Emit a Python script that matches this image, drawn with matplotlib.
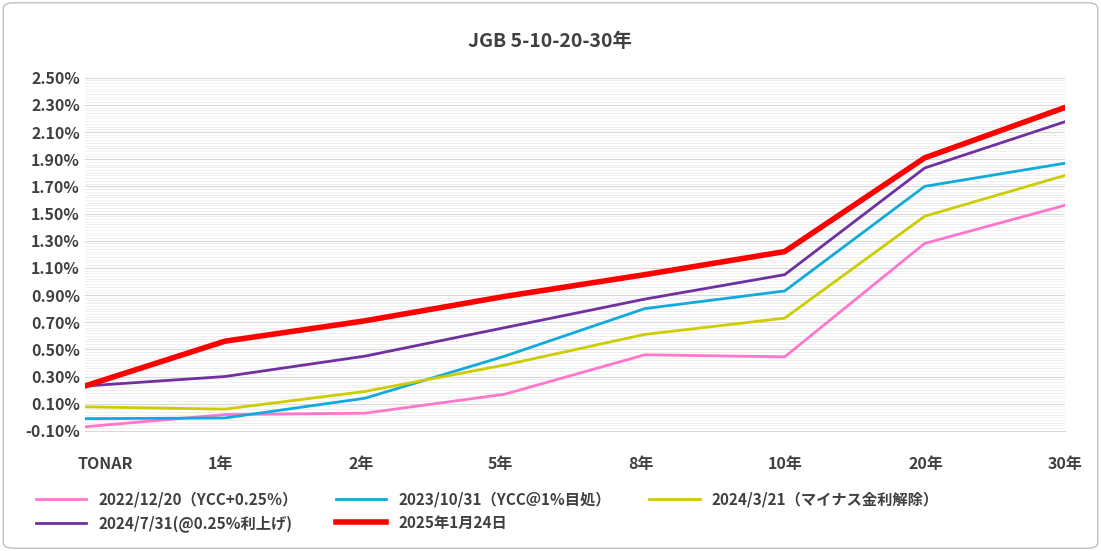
import matplotlib
matplotlib.use('Agg')
import matplotlib.pyplot as plt
import matplotlib.transforms as mtrans
import numpy as np
from matplotlib.patches import FancyBboxPatch
from matplotlib.ticker import MultipleLocator, FixedLocator, FuncFormatter

plt.rcParams['font.family'] = ['Noto Sans CJK JP', 'DejaVu Sans']

categories = ['TONAR', '1年', '2年', '5年', '8年', '10年', '20年', '30年']
s_2022 = [-0.07, 0.02, 0.03, 0.17, 0.46, 0.445, 1.28, 1.56]
s_2023 = [-0.01, -0.005, 0.14, 0.45, 0.80, 0.93, 1.70, 1.87]
s_2024m = [0.077, 0.06, 0.19, 0.385, 0.61, 0.73, 1.48, 1.78]
s_2024j = [0.23, 0.30, 0.45, 0.66, 0.87, 1.05, 1.835, 2.175]
s_2025 = [0.23, 0.56, 0.71, 0.89, 1.05, 1.22, 1.91, 2.28]

series = [
    ('2022/12/20（YCC+0.25％）', s_2022, '#ff77cc', 2),
    ('2023/10/31（YCC＠1%目処）', s_2023, '#11aadd', 2),
    ('2024/3/21（マイナス金利解除）', s_2024m, '#cccc00', 2),
    ('2024/7/31(@0.25%利上げ)', s_2024j, '#7030a0', 2),
    ('2025年1月24日', s_2025, '#ff0000', 4),
]

fig = plt.figure(figsize=(11.01, 5.51), dpi=100)
fig.patches.append(FancyBboxPatch((0.003, 0.005), 0.994, 0.99, boxstyle='round,pad=0,rounding_size=0.01',
                                  transform=fig.transFigure, fill=False, ec='#bfbfbf', lw=1))
ax = fig.add_axes([0.077, 0.218, 0.89, 0.641])
x = list(range(len(categories)))
lines = []
for label, vals, color, lw in series:
    lines += ax.plot(x, vals, color=color, lw=lw, label=label)

ax.set_xlim(0, len(categories) - 1)
ax.set_ylim(-0.1, 2.5)
ax.yaxis.set_major_locator(FixedLocator(np.round(np.arange(-0.1, 2.51, 0.2), 2)))
ax.yaxis.set_minor_locator(MultipleLocator(0.02))
ax.yaxis.set_major_formatter(FuncFormatter(lambda v, p: f'{v:.2f}%'))
ax.grid(axis='y', which='major', color='#d9d9d9', lw=0.8)
ax.grid(axis='y', which='minor', color='#ededed', lw=0.6)
ax.set_axisbelow(True)
for s in ['top', 'right', 'left']:
    ax.spines[s].set_visible(False)
ax.spines['bottom'].set_color('#d9d9d9')
ax.tick_params(axis='both', which='both', length=0, labelsize=11.5, labelcolor='#404040')
ax.tick_params(axis='x', pad=18)
ax.set_xticks(x)
ax.set_xticklabels(categories, fontweight='bold')
for t in ax.get_xticklabels():
    t.set_ha('left')
for t in ax.get_yticklabels():
    t.set_fontweight('bold')
offs = mtrans.ScaledTranslation(-12 / 72, 0, fig.dpi_scale_trans)
for t in ax.get_xticklabels()[1:]:
    t.set_transform(t.get_transform() + offs)
offs0 = mtrans.ScaledTranslation(-5 / 72, 0, fig.dpi_scale_trans)
ax.get_xticklabels()[0].set_transform(ax.get_xticklabels()[0].get_transform() + offs0)

fig.text(0.5, 0.915, 'JGB 5-10-20-30年', ha='center', fontsize=14, fontweight='bold', color='#404040')
order = [0, 3, 1, 4, 2]
leg = fig.legend([lines[i] for i in order], [series[i][0] for i in order],
                 loc='lower left', bbox_to_anchor=(0.02, 0.01), ncol=3, frameon=False,
                 prop={'size': 11, 'weight': 'bold'}, handlelength=3.3, columnspacing=2.5,
                 labelspacing=0.5)
for t in leg.get_texts():
    t.set_color('#404040')
fig.savefig('out.png', dpi=100)
